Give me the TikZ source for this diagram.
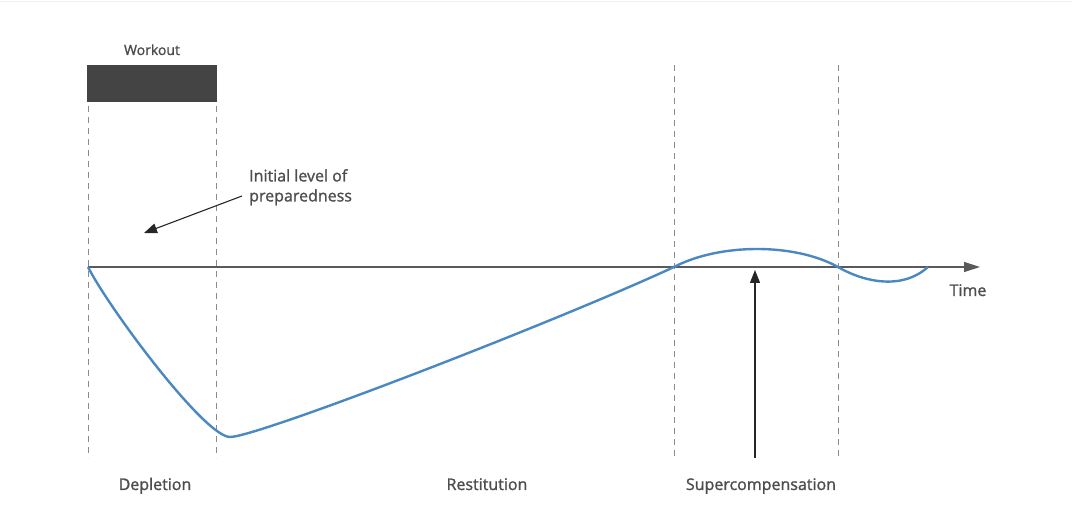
\documentclass[tikz,border=0pt]{standalone}
\usepackage{fontspec}
\setmainfont{Open Sans}
\newfontfamily\lblfont{Open Sans}[BoldFont={Open Sans},BoldFeatures={FakeBold=1.3}]
\usetikzlibrary{arrows.meta}
\definecolor{txt}{HTML}{4D4D4D}
\definecolor{axis}{HTML}{5A5A5A}
\definecolor{curve}{HTML}{4A88C2}
\definecolor{box}{HTML}{444444}
\definecolor{dash}{HTML}{8A8A8A}
\begin{document}
\begin{tikzpicture}[x=1pt,y=-1pt,
  lbl/.style={text=txt,font=\lblfont\bfseries\fontsize{16}{19}\selectfont,inner sep=0pt,anchor=base},
  guide/.style={draw=dash,line width=0.9pt,dash pattern=on 6pt off 5pt},
  pointer/.style={draw=black!85,line width=1.1pt,-{Triangle[length=13pt,width=10pt]}}]
\useasboundingbox (0,0) rectangle (1072,526);
\draw[black!6,line width=1.2pt] (0,1.5) -- (1072,1.5);
% workout box
\node[lbl,font=\lblfont\bfseries\fontsize{14}{16}\selectfont] (workout) at (152,55) {Workout};
\node[fill=box,minimum width=130pt,minimum height=37pt,inner sep=0pt,anchor=north west] (wbox) at (87,65) {};
% guides
\coordinate (g1t) at (88,106); \coordinate (g1b) at (88,458);
\coordinate (g2t) at (216,106); \coordinate (g2b) at (216,458);
\coordinate (g3t) at (674,65); \coordinate (g3b) at (674,458);
\coordinate (g4t) at (838,65); \coordinate (g4b) at (838,458);
\draw[guide] (g1t) -- (g1b);
\draw[guide] (g2t) -- (g2b);
\draw[guide] (g3t) -- (g3b);
\draw[guide] (g4t) -- (g4b);
% axis
\coordinate (origin) at (88,267);
\coordinate (axend) at (980,267);
\draw[draw=axis,line width=1.3pt,-{Triangle[length=16pt,width=10pt]}] (origin) -- (axend);
\node[lbl] (time) at (968,296) {Time};
% curve
\coordinate (c1) at (674,267);
\coordinate (c2) at (838,267);
\coordinate (cend) at (928,267);
\coordinate (cmin) at (230,437);
\draw[curve,line width=2.4pt,line join=round]
  (origin) .. controls (110,310) and (205,437) .. (cmin)
  .. controls (258,437) and (560,320) .. (c1)
  .. controls (720,243) and (795,243) .. (c2)
  .. controls (860,280) and (900,292) .. (cend);
% supercompensation arrow
\coordinate (sa) at (755,458);
\coordinate (sb) at (755,270);
\draw[pointer] (sa) -- (sb);
% initial level arrow
\node[lbl,align=left,anchor=north west,text depth=0pt] (init) at (249,169) {Initial level of\\[1pt]preparedness};
\coordinate (ia) at (242,196);
\coordinate (ib) at (144,233);
\draw[pointer] (ia) -- (ib);
% labels
\node[lbl] (dep) at (155,490) {Depletion};
\node[lbl] (res) at (487,490) {Restitution};
\node[lbl] (sup) at (761,490) {Supercompensation};
\end{tikzpicture}
\end{document}
